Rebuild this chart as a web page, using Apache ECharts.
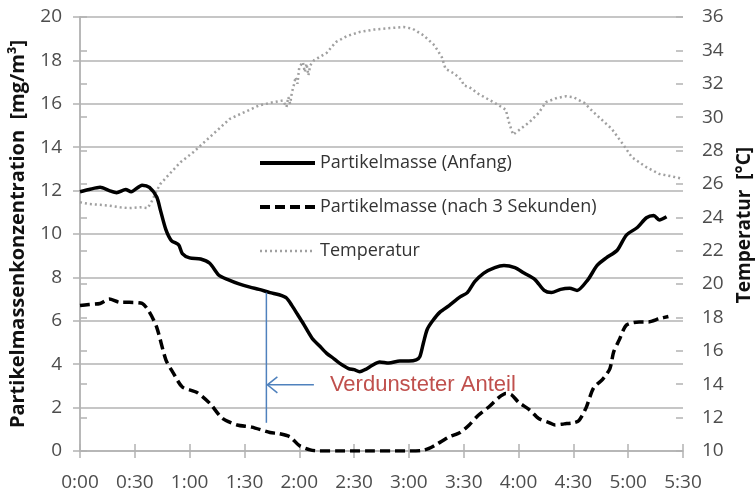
<!DOCTYPE html>
<html>
<head>
<meta charset="utf-8">
<script src="https://cdn.jsdelivr.net/npm/echarts@6/dist/echarts.min.js"></script>
<style>
  html, body { margin: 0; padding: 0; background: #fff; }
  #chart { width: 756px; height: 498px; }
</style>
</head>
<body>
<div id="chart"></div>
<script>
// Time axis: minutes since start, labelled every 30 minutes
const timeLabels = ['0:00', '0:30', '1:00', '1:30', '2:00', '2:30', '3:00', '3:30', '4:00', '4:30', '5:00', '5:30'];

// Partikelmasse (Anfang) [mg/m³]
const anfangTime = [0, 5, 11, 16, 20, 25, 28, 34, 38, 42, 44, 47, 50, 54, 56, 60, 66, 71, 76, 81, 87, 93, 98, 104, 109, 113, 116, 119, 122, 127, 131, 135, 139, 142, 147, 150, 153, 156, 160, 164, 169, 175, 180, 184, 186, 188, 190, 193, 197, 202, 208, 212, 216, 221, 227, 232, 238, 243, 249, 254, 258, 263, 268, 272, 278, 283, 288, 294, 299, 305, 310, 314, 317, 321];
const anfangValue = [11.95, 12.05, 12.15, 12.0, 11.9, 12.05, 11.95, 12.25, 12.15, 11.7, 11.1, 10.2, 9.7, 9.5, 9.1, 8.9, 8.85, 8.65, 8.1, 7.9, 7.7, 7.55, 7.45, 7.3, 7.2, 7.05, 6.7, 6.3, 5.9, 5.2, 4.85, 4.5, 4.25, 4.05, 3.8, 3.75, 3.65, 3.75, 3.95, 4.1, 4.05, 4.15, 4.15, 4.2, 4.35, 5.0, 5.6, 6.0, 6.4, 6.7, 7.1, 7.3, 7.8, 8.2, 8.45, 8.55, 8.45, 8.2, 7.9, 7.4, 7.3, 7.45, 7.5, 7.4, 7.9, 8.55, 8.9, 9.25, 9.95, 10.3, 10.75, 10.85, 10.65, 10.8];

// Partikelmasse (nach 3 Sekunden) [mg/m³]
const nachTime = [0, 5, 11, 16, 22, 27, 34, 38, 42, 47, 51, 56, 64, 71, 78, 86, 94, 104, 109, 115, 120, 126, 131, 140, 150, 160, 170, 180, 187, 191, 195, 198, 202, 208, 213, 218, 224, 229, 233, 236, 240, 246, 251, 257, 260, 265, 270, 273, 277, 281, 286, 290, 292, 295, 299, 306, 311, 317, 322];
const nachValue = [6.7, 6.75, 6.8, 7.0, 6.85, 6.85, 6.8, 6.4, 5.7, 4.2, 3.6, 2.95, 2.7, 2.2, 1.5, 1.2, 1.1, 0.85, 0.8, 0.65, 0.25, 0.05, 0.0, 0.0, 0.0, 0.0, 0.0, 0.0, 0.02, 0.12, 0.3, 0.45, 0.65, 0.85, 1.2, 1.65, 2.05, 2.45, 2.65, 2.6, 2.25, 1.9, 1.5, 1.3, 1.2, 1.25, 1.3, 1.4, 2.0, 2.9, 3.3, 3.8, 4.55, 5.1, 5.8, 5.95, 5.95, 6.1, 6.2];

// Temperatur [°C]
const tempTime = [0, 5, 11, 16, 22, 27, 33, 37, 39, 42, 44, 49, 55, 62, 68, 75, 82, 91, 98, 106, 111, 113, 114, 115, 116, 117, 118, 119, 120, 122, 123, 124, 125, 126, 128, 131, 135, 140, 146, 153, 161, 171, 177, 182, 188, 194, 198, 200, 205, 209, 210, 213, 218, 227, 233, 235, 237, 240, 246, 251, 255, 261, 266, 270, 276, 281, 287, 291, 297, 302, 310, 317, 324, 330];
const tempValue = [24.9, 24.8, 24.75, 24.7, 24.6, 24.55, 24.6, 24.55, 24.9, 25.6, 26.0, 26.6, 27.3, 27.9, 28.5, 29.2, 29.9, 30.35, 30.7, 30.9, 31.0, 30.6, 31.2, 30.8, 31.5, 31.9, 32.4, 32.0, 33.0, 33.3, 32.7, 33.2, 32.5, 33.1, 33.4, 33.6, 33.85, 34.5, 34.85, 35.1, 35.25, 35.35, 35.4, 35.3, 34.9, 34.3, 33.6, 32.9, 32.6, 32.2, 31.9, 31.8, 31.4, 30.85, 30.45, 29.6, 28.95, 29.2, 29.7, 30.25, 30.9, 31.15, 31.25, 31.2, 30.85, 30.3, 29.7, 29.3, 28.4, 27.6, 27.0, 26.6, 26.45, 26.3];

// Annotation: evaporated share between the two mass curves
const markTime = 102;
const markTop = 7.3;
const markBottom = 1.3;
const arrowFrom = 128;
const arrowLevel = 3.05;
const noteText = 'Verdunsteter Anteil';

const pairs = (t, v) => t.map((x, i) => [x, v[i]]);

const fontFamily = '"Open Sans", "Noto Sans", sans-serif';
const gridColor = '#b3b3b3';
const labelColor = '#4d4d4d';

const chart = echarts.init(document.getElementById('chart'), null, { renderer: 'canvas' });

const tickAxisX = (inside) => ({
  type: 'value', min: 0, max: 330, interval: 30, position: 'bottom',
  axisLine: { show: !inside, lineStyle: { color: gridColor, width: 1.5 } },
  axisTick: { show: true, inside: inside, length: 7, lineStyle: { color: gridColor, width: 1.5 } },
  axisLabel: inside ? { show: false } : {
    show: true, margin: 22, color: labelColor, fontFamily: fontFamily, fontSize: 19,
    formatter: (v) => timeLabels[Math.round(v / 30)]
  },
  splitLine: { show: false }
});

const option = {
  animation: false,
  backgroundColor: '#fff',
  grid: { left: 80, right: 73, top: 17, bottom: 47, containLabel: false, outerBoundsMode: 'none' },
  legend: {
    orient: 'vertical', left: 258, top: 154, padding: 0, itemWidth: 55, itemHeight: 14, itemGap: 26,
    itemStyle: { opacity: 0 },
    textStyle: { color: '#333', fontFamily: fontFamily, fontSize: 18 },
    data: [
      { name: 'Partikelmasse (Anfang)', lineStyle: { width: 4 } },
      { name: 'Partikelmasse (nach 3 Sekunden)', lineStyle: { width: 4 } },
      { name: 'Temperatur', lineStyle: { width: 2.5 } }
    ]
  },
  xAxis: [tickAxisX(false), tickAxisX(true)],
  yAxis: [
    {
      type: 'value', min: 0, max: 20, interval: 2, position: 'left',
      name: 'Partikelmassenkonzentration  [mg/m³]', nameLocation: 'middle', nameRotate: 90, nameGap: 52,
      nameTextStyle: { color: '#111', fontFamily: fontFamily, fontSize: 20, fontWeight: 'bold' },
      axisLine: { show: true, lineStyle: { color: gridColor, width: 1.5 } },
      axisTick: { show: true, length: 7, lineStyle: { color: gridColor, width: 1.5 } },
      axisLabel: { margin: 18, color: labelColor, fontFamily: fontFamily, fontSize: 19 },
      splitLine: { show: true, lineStyle: { color: gridColor, width: 1.5 } }
    },
    {
      type: 'value', min: 10, max: 36, interval: 2, position: 'right',
      name: 'Temperatur  [°C]', nameLocation: 'middle', nameRotate: 90, nameGap: 46,
      nameTextStyle: { color: '#111', fontFamily: fontFamily, fontSize: 19, fontWeight: 'bold', padding: [0, 0, 0, 18] },
      axisLine: { show: true, lineStyle: { color: gridColor, width: 1.5 } },
      axisTick: { show: true, length: 7, lineStyle: { color: gridColor, width: 1.5 } },
      axisLabel: { margin: 19, color: labelColor, fontFamily: fontFamily, fontSize: 19 },
      splitLine: { show: false }
    },
    {
      type: 'value', min: 10, max: 36, interval: 2, position: 'right',
      axisLine: { show: false },
      axisTick: { show: true, inside: true, length: 7, lineStyle: { color: gridColor, width: 1.5 } },
      axisLabel: { show: false },
      splitLine: { show: false }
    }
  ],
  series: [
    {
      name: 'Temperatur', type: 'line', xAxisIndex: 0, yAxisIndex: 1, symbol: 'none', z: 2,
      lineStyle: { color: '#a0a0a0', width: 2.5, type: [2, 3], cap: 'butt' },
      itemStyle: { color: '#a0a0a0' },
      data: pairs(tempTime, tempValue)
    },
    {
      name: 'Partikelmasse (nach 3 Sekunden)', type: 'line', xAxisIndex: 0, yAxisIndex: 0, symbol: 'none', z: 3,
      smooth: 0.25,
      lineStyle: { color: '#000', width: 3.5, type: [10, 5] },
      itemStyle: { color: '#000' },
      data: pairs(nachTime, nachValue)
    },
    {
      name: 'Partikelmasse (Anfang)', type: 'line', xAxisIndex: 0, yAxisIndex: 0, symbol: 'none', z: 4,
      smooth: 0.25,
      lineStyle: { color: '#000', width: 3.5 },
      itemStyle: { color: '#000' },
      data: pairs(anfangTime, anfangValue)
    }
  ]
};

chart.setOption(option);

// Annotation drawn in pixel space derived from the data coordinates
const toPx = (t, v) => chart.convertToPixel({ xAxisIndex: 0, yAxisIndex: 0 }, [t, v]);
const markUpper = toPx(markTime, markTop);
const markLower = toPx(markTime, markBottom);
const arrowTail = toPx(arrowFrom, arrowLevel);
const arrowHead = [markUpper[0] + 1, arrowTail[1]];
const blue = '#4f81bd';

chart.setOption({
  graphic: [
    { type: 'line', z: 10, shape: { x1: markUpper[0], y1: markUpper[1], x2: markLower[0], y2: markLower[1] }, style: { stroke: blue, lineWidth: 1.5 } },
    { type: 'line', z: 10, shape: { x1: arrowTail[0], y1: arrowTail[1], x2: arrowHead[0], y2: arrowHead[1] }, style: { stroke: blue, lineWidth: 1.5 } },
    { type: 'polyline', z: 10, shape: { points: [[arrowHead[0] + 10, arrowHead[1] - 8], arrowHead, [arrowHead[0] + 10, arrowHead[1] + 8]] }, style: { stroke: blue, lineWidth: 1.5, fill: null } },
    { type: 'text', z: 10, x: arrowTail[0] + 16, y: arrowTail[1], style: { text: noteText, fill: '#c0504d', font: '22px "Liberation Sans", Arial, sans-serif', verticalAlign: 'middle' } }
  ]
});
</script>
</body>
</html>
